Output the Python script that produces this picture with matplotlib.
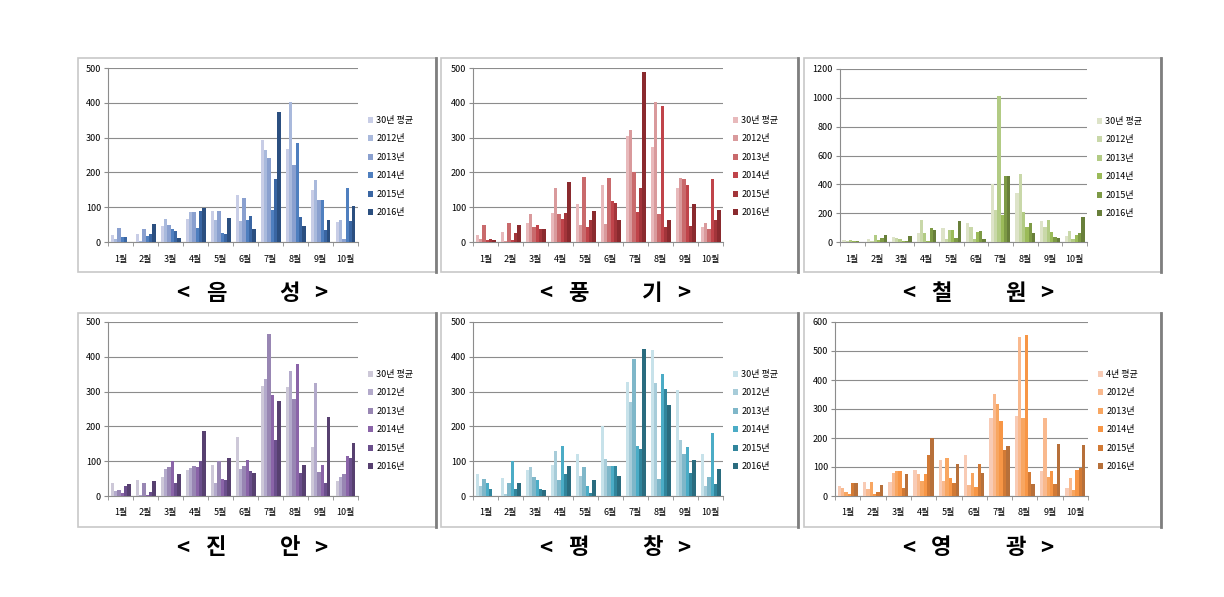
import matplotlib
matplotlib.use("Agg")
import matplotlib.pyplot as plt
from matplotlib.patches import Rectangle
from matplotlib.lines import Line2D
import numpy as np

plt.rcParams['font.family'] = ['Noto Sans CJK KR', 'DejaVu Sans']

months = ['1월', '2월', '3월', '4월', '5월', '6월', '7월', '8월', '9월', '10월']
series = ['30년 평균', '2012년', '2013년', '2014년', '2015년', '2016년']
series_yg = ['4년 평균', '2012년', '2013년', '2014년', '2015년', '2016년']

# 음성  (rows = months, cols = series)
eumseong = [[20, 10, 40, 13, 13, 0],
            [22, 2, 36, 18, 22, 51],
            [45, 65, 48, 38, 31, 12],
            [65, 85, 85, 40, 90, 98],
            [88, 62, 90, 25, 22, 70],
            [134, 60, 126, 62, 74, 38],
            [294, 265, 240, 92, 182, 375],
            [268, 402, 222, 285, 72, 45],
            [150, 178, 122, 122, 34, 62],
            [58, 62, 10, 154, 60, 103]]
# 풍기
punggi = [[20, 10, 48, 5, 10, 5],
          [30, 2, 55, 5, 27, 48],
          [55, 80, 42, 48, 38, 36],
          [83, 155, 80, 65, 83, 172],
          [108, 48, 188, 43, 62, 90],
          [165, 52, 185, 118, 112, 63],
          [305, 323, 200, 86, 155, 488],
          [272, 403, 80, 390, 42, 62],
          [155, 184, 180, 163, 45, 108],
          [42, 55, 37, 180, 62, 93]]
# 철원
cheorwon = [[15, 5, 15, 10, 8, 0],
            [20, 5, 50, 15, 25, 50],
            [35, 30, 20, 10, 5, 45],
            [65, 150, 60, 10, 95, 85],
            [100, 20, 85, 80, 30, 148],
            [135, 105, 20, 70, 78, 22],
            [400, 220, 1010, 185, 455, 460],
            [340, 470, 205, 105, 135, 65],
            [145, 105, 150, 70, 35, 25],
            [40, 78, 20, 50, 65, 170]]
# 진안
jinan = [[37, 13, 18, 8, 30, 35],
         [45, 2, 38, 2, 12, 42],
         [55, 78, 82, 100, 37, 62],
         [75, 80, 85, 82, 100, 187],
         [88, 37, 100, 48, 45, 108],
         [170, 78, 85, 103, 72, 65],
         [315, 337, 465, 290, 160, 273],
         [312, 360, 280, 378, 65, 88],
         [140, 325, 70, 90, 37, 228],
         [42, 55, 62, 115, 110, 152]]
# 평창
pyeongchang = [[62, 28, 48, 37, 20, 0],
               [53, 5, 37, 100, 20, 37],
               [75, 82, 55, 45, 20, 18],
               [90, 128, 47, 143, 62, 85],
               [122, 58, 83, 28, 10, 47],
               [200, 105, 85, 87, 87, 57],
               [327, 270, 393, 145, 135, 422],
               [420, 325, 50, 352, 308, 262],
               [305, 160, 122, 140, 65, 103],
               [122, 28, 55, 180, 35, 78]]
# 영광
yeonggwang = [[35, 27, 15, 8, 45, 45],
              [48, 25, 47, 8, 15, 38],
              [50, 78, 85, 87, 27, 77],
              [88, 75, 52, 75, 140, 200],
              [123, 52, 130, 63, 45, 112],
              [143, 37, 78, 30, 112, 78],
              [270, 352, 318, 260, 160, 173],
              [275, 550, 270, 555, 83, 42],
              [85, 268, 65, 87, 40, 180],
              [28, 62, 22, 90, 95, 175]]

blues = ['#c8cde6', '#a9b9dc', '#8aa0cf', '#4f7fbf', '#3a66a3', '#2b4f80']
reds = ['#e8b9bb', '#d99a9c', '#c96a6c', '#c0444a', '#a3353a', '#8a2a2e']
greens = ['#dde3c8', '#c9d8a9', '#b2cb84', '#9bbb59', '#7d9a45', '#687f3a']
purples = ['#cdc8d8', '#b3aacb', '#9886b3', '#8a64a8', '#6b4f8c', '#574070']
teals = ['#c7e2ea', '#a7ccd9', '#7fb7c9', '#4bacc6', '#31859c', '#2a6c7f']
oranges = ['#f8cbb5', '#f9b98e', '#f8a661', '#f79646', '#d27a35', '#b7703a']

W, H = 1224, 597
fig = plt.figure(figsize=(W / 100, H / 100), dpi=100)


def px(x0, y0, x1, y1):
    # pixel box -> figure fraction [left, bottom, width, height]
    return [x0 / W, 1 - y1 / H, (x1 - x0) / W, (y1 - y0) / H]


panels = [
    (eumseong, blues, series, 500, 100, (78, 58, 436, 272), (108, 68, 358, 242), '음성'),
    (punggi, reds, series, 500, 100, (441, 58, 798, 272), (473, 68, 723, 242), '풍기'),
    (cheorwon, greens, series, 1200, 200, (804, 58, 1161, 272), (840, 69, 1087, 242), '철원'),
    (jinan, purples, series, 500, 100, (78, 313, 436, 527), (108, 322, 358, 496), '진안'),
    (pyeongchang, teals, series, 500, 100, (441, 313, 798, 527), (473, 322, 723, 496), '평창'),
    (yeonggwang, oranges, series_yg, 600, 100, (804, 313, 1161, 527), (835, 322, 1088, 496), '영광'),
]

for data, colors, labels, ymax, step, frame, box, title in panels:
    fx0, fy0, fx1, fy1 = frame
    # panel frame
    fig.patches.append(Rectangle((fx0 / W, 1 - fy1 / H), (fx1 - fx0) / W, (fy1 - fy0) / H,
                                 transform=fig.transFigure, fill=False,
                                 edgecolor='#c8c8c8', linewidth=1.2))
    fig.lines.append(Line2D([fx1 / W, fx1 / W], [1 - fy0 / H, 1 - fy1 / H],
                            transform=fig.transFigure, color='#7f7f7f', linewidth=2))

    ax = fig.add_axes(px(*box))
    arr = np.array(data)
    x = np.arange(len(months))
    n = len(labels)
    bw = 0.8 / n
    for i in range(n):
        ax.bar(x - 0.4 + bw * (i + 0.5), arr[:, i], width=bw, color=colors[i],
               label=labels[i], zorder=3, linewidth=0)
    ax.set_xlim(-0.5, len(months) - 0.5)
    ax.set_ylim(0, ymax)
    ax.set_yticks(np.arange(0, ymax + 1, step))
    ax.yaxis.grid(True, color='#8c8c8c', linewidth=0.8, zorder=0)
    ax.set_xticks(x)
    ax.set_xticklabels(months)
    ax.set_xticks(np.arange(-0.5, len(months)), minor=True)
    ax.tick_params(axis='x', which='major', length=0, labelsize=6.5, pad=9)
    ax.tick_params(axis='x', which='minor', length=3, color='#8c8c8c')
    ax.tick_params(axis='y', length=3, color='#8c8c8c', labelsize=6.5, pad=2)
    for s in ['top', 'right']:
        ax.spines[s].set_visible(False)
    for s in ['left', 'bottom']:
        ax.spines[s].set_color('#8c8c8c')
        ax.spines[s].set_linewidth(0.8)

    lx = box[2] + 10
    ly = box[1] + 48
    ax.legend(loc='upper left', bbox_to_anchor=(lx / W, 1 - ly / H),
              bbox_transform=fig.transFigure, frameon=False, fontsize=6.5,
              handlelength=0.6, handleheight=0.6, handletextpad=0.3,
              labelspacing=1.05, borderpad=0, borderaxespad=0)

    # spaced title "< X   Y >"
    cx = (fx0 + fx1) / 2 - 4
    ty = 1 - (fy1 + 21) / H
    for dx, ch in [(-70, '<'), (-37, title[0]), (37, title[1]), (68, '>')]:
        fig.text((cx + dx) / W, ty, ch, ha='center', va='center',
                 fontsize=16, fontweight='bold')

fig.savefig('out.png', dpi=100)
